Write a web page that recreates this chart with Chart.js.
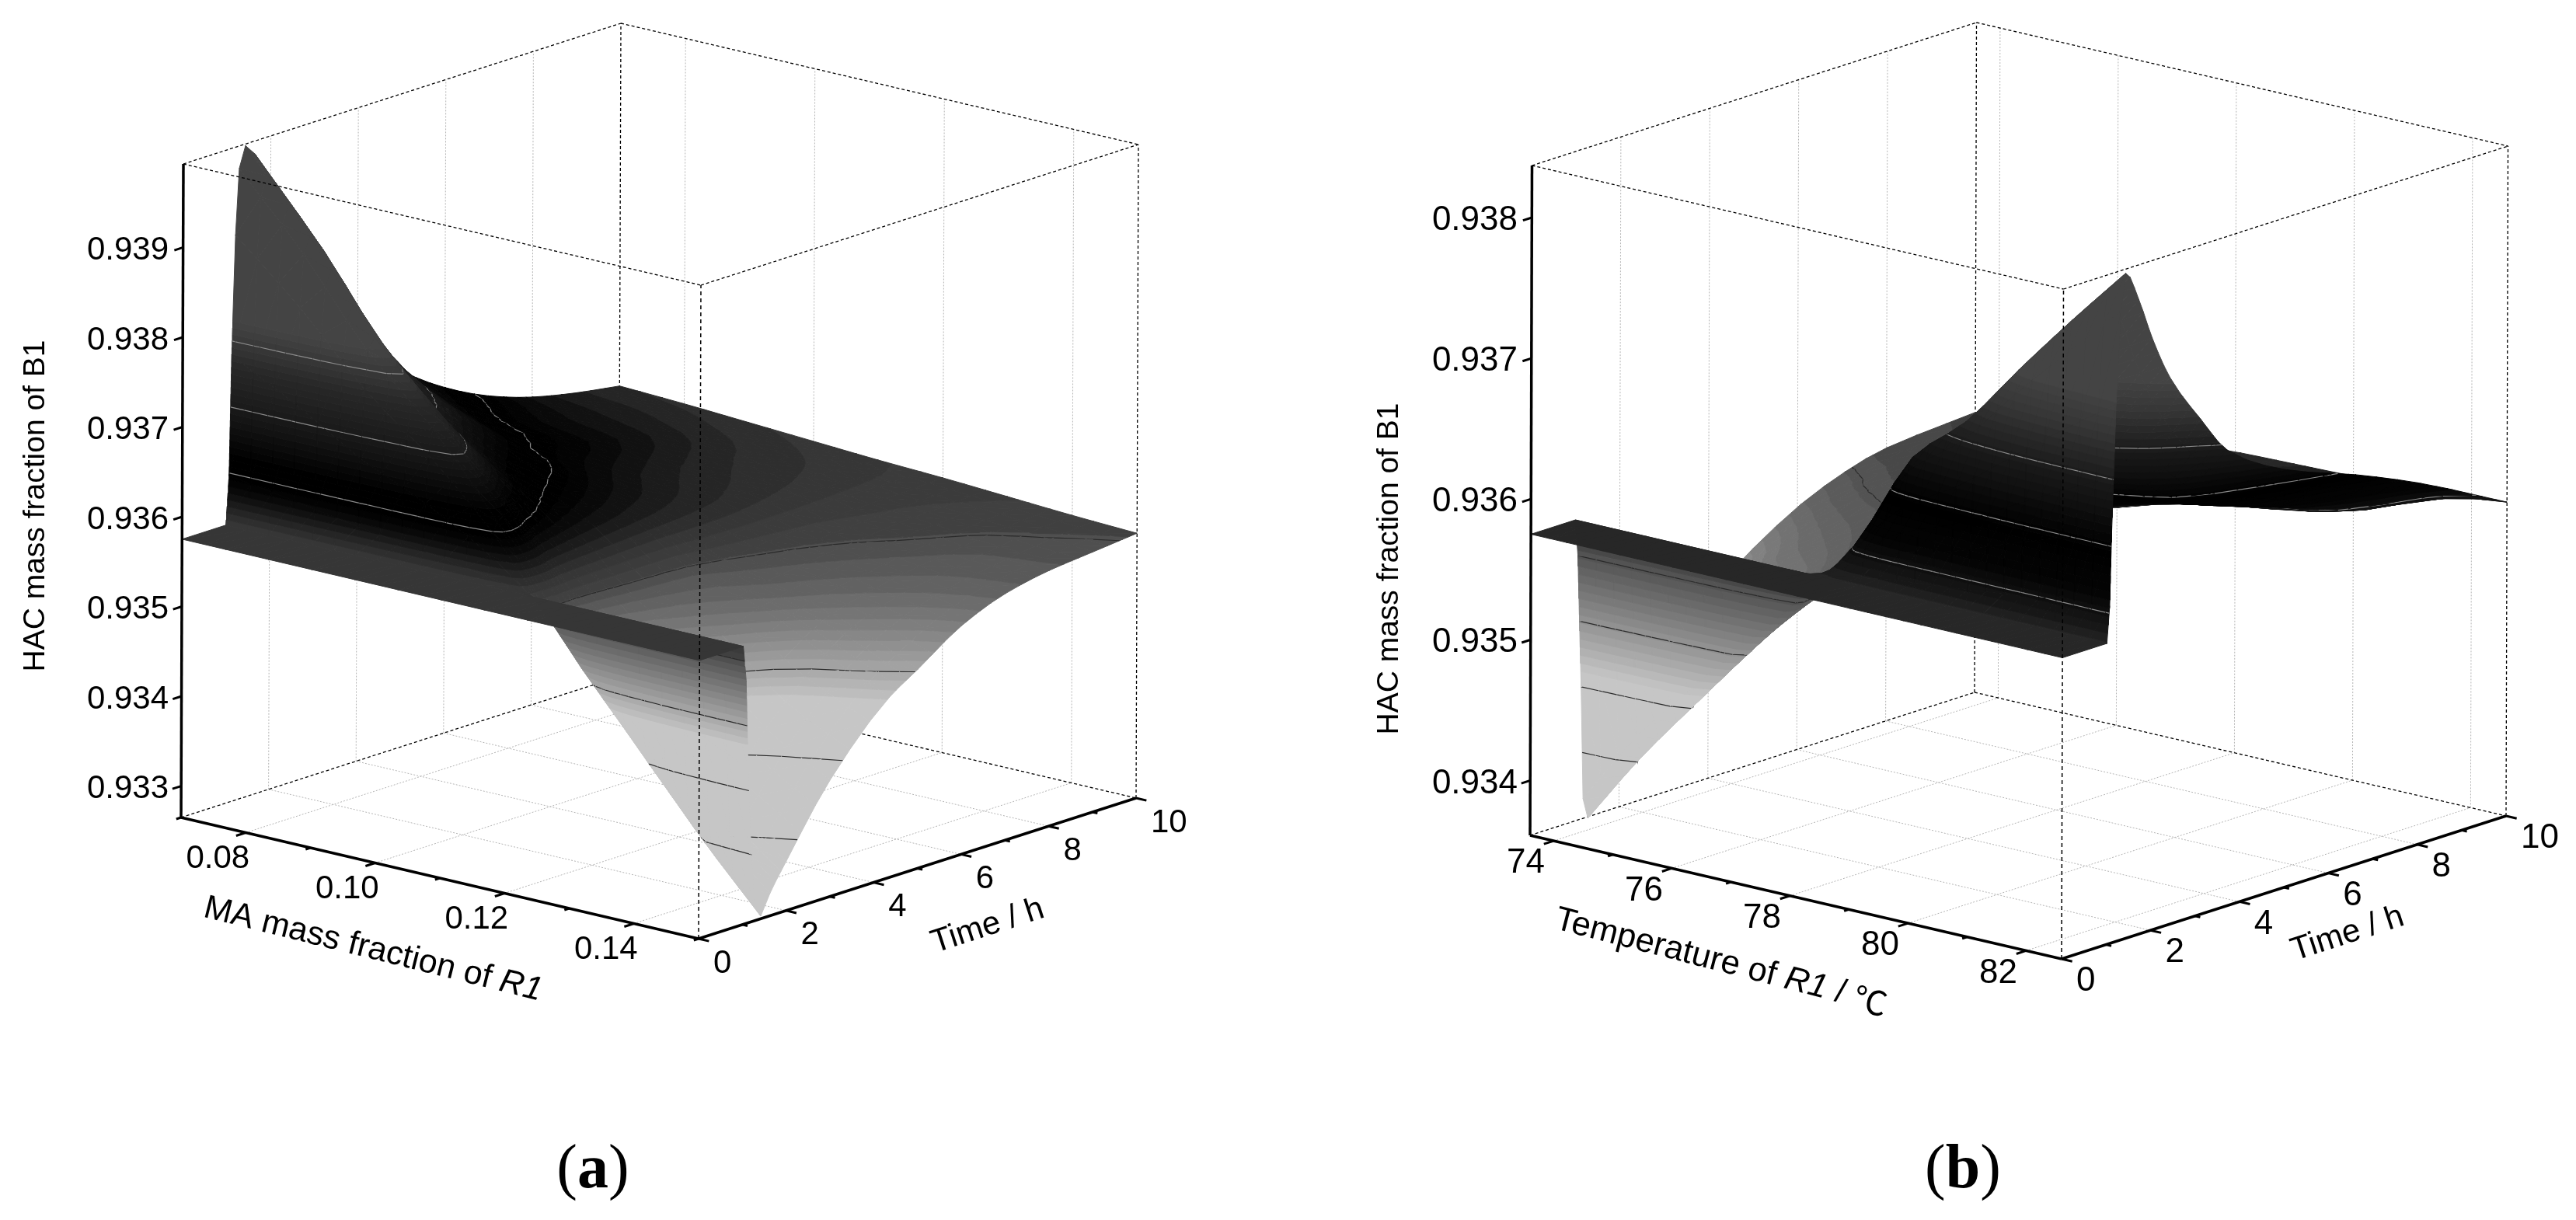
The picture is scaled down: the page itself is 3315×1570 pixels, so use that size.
<!DOCTYPE html>
<html>
<head>
<meta charset="utf-8">
<title>HAC mass fraction of B1</title>
<script src="https://cdn.jsdelivr.net/npm/chart.js@4"></script>
<style>
    html, body { margin: 0; padding: 0; background: #fff; }
    canvas { position: absolute; top: 0; }
</style>
</head>
<body>
<canvas id="chart-a" width="1658" height="1570" style="left:0"></canvas>
<canvas id="chart-b" width="1657" height="1570" style="left:1658px"></canvas>
<script>
// Panel (a) values
const maFractions = [0.07, 0.08, 0.09, 0.10, 0.11, 0.12, 0.13, 0.14, 0.15];
const maTimes = [0, 1, 1.07, 1.12, 1.2, 1.28, 1.42, 1.63, 2, 3, 4.35, 5, 6, 7, 8, 9, 10];
const maSurface = [
    [.93575, .93575, .93629, .93762, .93895, .93968, .93991, .93979, .9394, .9383, .9372, .93685, .9365, .93625, .93608, .93597, .93589],
    [.93575, .93575, .93618, .93724, .93831, .93889, .93907, .93895, .9386, .93765, .93682, .93655, .93628, .93614, .93604, .93595, .93586],
    [.93575, .93575, .93606, .93681, .93757, .93798, .93811, .938, .9376, .93698, .93655, .93632, .93621, .9361, .936, .9359, .93582],
    [.93575, .93575, .93596, .93648, .937, .93729, .93738, .93728, .93705, .93652, .93625, .93615, .93603, .93595, .93589, .93584, .93578],
    [.93575, .93575, .93584, .93607, .9363, .93642, .93646, .93642, .93628, .9361, .93599, .93595, .9359, .93585, .93581, .93578, .93574],
    [.93575, .93575, .93569, .93553, .93538, .9353, .93527, .9353, .93534, .93545, .93552, .93558, .93563, .93566, .93568, .93569, .93571],
    [.93575, .93575, .93557, .93512, .93467, .93443, .93435, .9344, .9346, .93505, .93532, .9354, .93548, .93555, .93561, .93564, .93567],
    [.93575, .93575, .93545, .93472, .93399, .93359, .93346, .93355, .93375, .93435, .93497, .93518, .93535, .93545, .93552, .93559, .93563],
    [.93575, .93575, .93535, .93437, .93339, .93285, .93268, .9329, .9332, .93395, .93466, .93487, .9352, .9354, .9355, .93555, .9356]
];
const maMajorTicks = [0.08, 0.10, 0.12, 0.14];
const maMinorTicks = [0.07, 0.09, 0.11, 0.13, 0.15];
const maZTicks = [0.933, 0.934, 0.935, 0.936, 0.937, 0.938, 0.939];
const maContours = [.9334, .93412, .93485, .93558, .93632, .93705, .93778];
const maColorZ = [.9346, .9352, .93555, .9356, .93575, .9359, .9361, .93625, .9365, .937, .9375, .938];
const maColorGray = [198, 125, 80, 66, 56, 40, 12, 0, 0, 24, 40, 68];

// Panel (b) values
const temperatures = [73.6, 74.5, 75.4, 76.3, 77.2, 78.1, 79, 79.9, 80.8, 81.7, 82.6];
const tempTimes = [0, 1, 1.06, 1.1, 1.14, 1.19, 1.3, 1.4, 1.7, 2, 2.4, 3.1, 3.7, 5, 6.6, 8, 10];
const tempSurface = [
    [.93575, .93575, .93549, .93502, .93455, .93375, .9336, .93365, .93378, .934, .9343, .9346, .9348, .93514, .93542, .93555, .9356],
    [.93575, .93575, .93555, .9352, .93484, .93428, .93412, .93415, .93428, .93445, .9347, .935, .93515, .93532, .93551, .93558, .93562],
    [.93575, .93575, .93561, .93535, .93509, .9347, .93458, .9346, .9347, .93485, .93497, .93518, .93528, .93543, .93555, .93561, .93565],
    [.93575, .93575, .93566, .93551, .93535, .9351, .93503, .93505, .93512, .93522, .9353, .9354, .93547, .93555, .93561, .93566, .93569],
    [.93575, .93575, .93572, .93565, .93559, .9355, .93547, .93548, .9355, .93552, .93555, .93558, .93561, .93565, .93568, .9357, .93572],
    [.93575, .93575, .93578, .93584, .93589, .93593, .93598, .93598, .93598, .93596, .93594, .93591, .93587, .93582, .93578, .93576, .93575],
    [.93575, .93575, .93584, .93603, .93617, .93635, .93659, .93668, .93652, .93635, .93618, .93605, .93601, .93592, .93584, .93578, .93576],
    [.93575, .93575, .93588, .93613, .93632, .93658, .93689, .93702, .9368, .93655, .93638, .93626, .93618, .93607, .93591, .93578, .93577],
    [.93575, .93575, .93592, .93627, .93653, .93687, .93731, .93748, .93715, .93686, .93658, .93642, .93632, .93616, .93599, .93582, .93579],
    [.93575, .93575, .93597, .9364, .93673, .93716, .9377, .93792, .9376, .9373, .93695, .93658, .93642, .93624, .93606, .9359, .93582],
    [.93575, .93575, .93601, .93653, .93692, .93743, .93808, .93834, .93812, .93782, .9375, .93713, .93685, .93658, .93638, .93618, .93584]
];
const tempMajorTicks = [74, 76, 78, 80, 82];
const tempMinorTicks = [75, 77, 79, 81];
const tempZTicks = [0.934, 0.935, 0.936, 0.937, 0.938];
const tempContours = [.93408, .93455, .93502, .93549, .93596, .93643, .9369];
const tempColorZ = [.93465, .9351, .93549, .93575, .93584, .9361, .9364, .9369, .93725, .9375];
const tempColorGray = [198, 136, 85, 36, 24, 4, 0, 28, 56, 68];

// Shared time axis
const timeMajorTicks = [0, 2, 4, 6, 8, 10];
const timeMinorTicks = [1, 3, 5, 7, 9];

const SANS = '"Liberation Sans", Arial, sans-serif';

const panels = [
    {
        canvas: 'chart-a', scaleMin: 0, scaleMax: 1658,
        xValues: maFractions, times: maTimes, surface: maSurface,
        xMajor: maMajorTicks, xMinor: maMinorTicks, zTicks: maZTicks,
        xDigits: 2, contours: maContours, colorZ: maColorZ, colorGray: maColorGray, bandStep: 0.000073,
        xRange: [0.07, 0.15], zRange: [0.93265, 0.93993],
        origin: [233, 1052], ex: [666, 156], et: [563, -181], ez: [3, -841],
        tickFont: 42, xTickOffset: [-36, 34], tTickOffset: [19, 32], zLabelX: 217,
        zTitle: { x: 46, y: 651, size: 39 },
        xTitle: { x: 480, y: 1222, size: 43, angle: 14, runs: [['MA mass fraction of ', ''], ['R1', 'italic']] },
        tTitle: { x: 1271, y: 1192, size: 42, angle: -18 },
        caption: { x: 763, y: 1528, letter: 'a' }
    },
    {
        canvas: 'chart-b', scaleMin: 1658, scaleMax: 3315,
        xValues: temperatures, times: tempTimes, surface: tempSurface,
        xMajor: tempMajorTicks, xMinor: tempMinorTicks, zTicks: tempZTicks,
        xDigits: 0, contours: tempContours, colorZ: tempColorZ, colorGray: tempColorGray, bandStep: 0.000058,
        xRange: [73.6, 82.6], zRange: [0.93361, 0.93837],
        origin: [1969, 1075], ex: [684, 159], et: [572, -184], ez: [2.5, -862],
        tickFont: 44, xTickOffset: [-36, 29], tTickOffset: [19, 29], zLabelX: 1953,
        zTitle: { x: 1788, y: 732, size: 39 },
        xTitle: { x: 2215, y: 1238, size: 43.5, angle: 14.5, runs: [['Temperature of ', ''], ['R1', 'italic'], [' / ', ''], ['℃', 'cjk']] },
        tTitle: { x: 3021, y: 1202, size: 42, angle: -18 },
        caption: { x: 2526, y: 1528, letter: 'b' }
    }
];

// Orthographic projection of (x, time, z) onto the chart's pixel-sized scales
function makeProjection(p) {
    return (x, t, z) => {
        const u = (x - p.xRange[0]) / (p.xRange[1] - p.xRange[0]);
        const v = t / 10;
        const w = (z - p.zRange[0]) / (p.zRange[1] - p.zRange[0]);
        return {
            x: p.origin[0] + u * p.ex[0] + v * p.et[0] + w * p.ez[0],
            y: p.origin[1] + u * p.ex[1] + v * p.et[1] + w * p.ez[1]
        };
    };
}

// Monotone cubic through a column of the table, same idea as a line's tension
function monotoneSlopes(xs, ys) {
    const n = xs.length;
    const d = [];
    for (let i = 0; i < n - 1; i++) d.push((ys[i + 1] - ys[i]) / (xs[i + 1] - xs[i]));
    const m = [d[0]];
    for (let i = 1; i < n - 1; i++) {
        if (d[i - 1] * d[i] <= 0) {
            m.push(0);
        } else {
            const h0 = xs[i] - xs[i - 1], h1 = xs[i + 1] - xs[i];
            m.push(3 * (h0 + h1) / ((2 * h1 + h0) / d[i - 1] + (h1 + 2 * h0) / d[i]));
        }
    }
    m.push(d[n - 2]);
    return m;
}

function evalMonotone(xs, ys, m, i, s) {
    const h = xs[i + 1] - xs[i];
    const s2 = s * s, s3 = s2 * s;
    return (2 * s3 - 3 * s2 + 1) * ys[i] + (s3 - 2 * s2 + s) * h * m[i]
        + (-2 * s3 + 3 * s2) * ys[i + 1] + (s3 - s2) * h * m[i + 1];
}

// Tessellate the table for drawing: long time steps and all x steps get 3 sub-cells
function refineSurface(p) {
    const steps = [];
    p.times.forEach((t, j) => {
        if (j === p.times.length - 1) return;
        const dt = p.times[j + 1] - t;
        const parts = (j > 0 && dt >= 0.3) ? 3 : 1;
        for (let k = 0; k < parts; k++) steps.push({ j, s: k / parts, t: t + dt * k / parts });
    });
    steps.push({ j: p.times.length - 2, s: 1, t: p.times[p.times.length - 1] });

    const rowSlopes = p.surface.map(row => monotoneSlopes(p.times, row));
    const columns = steps.map(st => p.surface.map((row, i) => evalMonotone(p.times, row, rowSlopes[i], st.j, st.s)));

    const fineX = [];
    p.xValues.forEach((x, i) => {
        if (i === p.xValues.length - 1) { fineX.push({ i: i - 1, s: 1, x }); return; }
        for (let k = 0; k < 3; k++) fineX.push({ i, s: k / 3, x: x + (p.xValues[i + 1] - x) * k / 3 });
    });
    const zs = fineX.map(() => []);
    columns.forEach(col => {
        const slopes = monotoneSlopes(p.xValues, col);
        fineX.forEach((fx, a) => zs[a].push(evalMonotone(p.xValues, col, slopes, fx.i, fx.s)));
    });
    return { xs: fineX.map(f => f.x), ts: steps.map(s => s.t), zs };
}

function grayAt(p, z) {
    const zs = p.colorZ, gs = p.colorGray;
    if (z <= zs[0]) return gs[0];
    for (let i = 1; i < zs.length; i++) {
        if (z <= zs[i]) return gs[i - 1] + (gs[i] - gs[i - 1]) * (z - zs[i - 1]) / (zs[i] - zs[i - 1]);
    }
    return gs[gs.length - 1];
}

// Colour bands of the filled surface, flat outside the colour stops
function makeBands(p) {
    const first = p.colorZ[0], last = p.colorZ[p.colorZ.length - 1];
    const anchor = p.contours[0];
    const bands = [];
    let lo = -Infinity;
    let edge = anchor + Math.ceil((first - anchor) / p.bandStep) * p.bandStep;
    while (edge < last) {
        const mid = lo === -Infinity ? first : (lo + edge) / 2;
        bands.push({ lo, hi: edge, gray: Math.round(grayAt(p, mid)) });
        lo = edge;
        edge += p.bandStep;
    }
    bands.push({ lo, hi: Infinity, gray: p.colorGray[p.colorGray.length - 1] });
    return bands;
}

function clipBelow(poly, level, keepAbove) {
    const out = [];
    for (let i = 0; i < poly.length; i++) {
        const a = poly[i], b = poly[(i + 1) % poly.length];
        const aIn = keepAbove ? a.z >= level : a.z <= level;
        const bIn = keepAbove ? b.z >= level : b.z <= level;
        if (aIn) out.push(a);
        if (aIn !== bIn) {
            const s = (level - a.z) / (b.z - a.z);
            out.push({ x: a.x + (b.x - a.x) * s, t: a.t + (b.t - a.t) * s, z: level });
        }
    }
    return out;
}

function lineSet(points, color, width, dash) {
    return {
        data: points, showLine: true, fill: false, tension: 0, clip: false,
        borderColor: color, borderWidth: width, borderDash: dash || [], pointRadius: 0
    };
}

function triangleSets(p, tri, bands, project, out) {
    const zs = tri.map(c => c.z);
    const zMin = Math.min(...zs), zMax = Math.max(...zs);
    bands.forEach(b => {
        if (b.hi <= zMin || b.lo > zMax) return;
        let poly = tri;
        if (b.lo !== -Infinity) poly = clipBelow(poly, b.lo, true);
        if (b.hi !== Infinity && poly.length) poly = clipBelow(poly, b.hi, false);
        if (poly.length < 3) return;
        const color = `rgb(${b.gray},${b.gray},${b.gray})`;
        const pts = poly.map(c => project(c.x, c.t, c.z));
        pts.push(pts[0]);
        out.push({
            data: pts, showLine: true, fill: 'shape', tension: 0, clip: false,
            borderColor: color, backgroundColor: color, borderWidth: 1, pointRadius: 0
        });
    });
    // contour lines
    p.contours.forEach(level => {
        if (level < zMin || level >= zMax) return;
        const cross = [];
        for (let i = 0; i < 3; i++) {
            const a = tri[i], b = tri[(i + 1) % 3];
            if ((a.z < level) !== (b.z < level)) {
                const s = (level - a.z) / (b.z - a.z);
                cross.push(project(a.x + (b.x - a.x) * s, a.t + (b.t - a.t) * s, level));
            }
        }
        if (cross.length === 2) {
            out.push(lineSet(cross, level < 0.9358 ? '#2a2a2a' : '#8a8a8a', 1.2));
        }
    });
}

function buildDatasets(p) {
    const project = makeProjection(p);
    const [x0, x1] = p.xRange;
    const [z0, z1] = p.zRange;
    const sets = [];
    const segment = (a, b, color, width, dash) => sets.push(lineSet([project(...a), project(...b)], color, width, dash));

    // wall and floor grid behind the surface
    const gridColor = '#b4b4b4', gridDash = [2, 2];
    timeMajorTicks.slice(1, -1).forEach(t => {
        segment([x0, t, z0], [x0, t, z1], gridColor, 1, gridDash);
        segment([x0, t, z0], [x1, t, z0], gridColor, 1, gridDash);
    });
    p.xMajor.forEach(x => {
        segment([x, 10, z0], [x, 10, z1], gridColor, 1, gridDash);
        segment([x, 0, z0], [x, 10, z0], gridColor, 1, gridDash);
    });

    // back edges of the box
    const boxDash = [4, 3];
    segment([x0, 0, z0], [x0, 10, z0], '#000', 1.3, boxDash);
    segment([x0, 10, z0], [x1, 10, z0], '#000', 1.3, boxDash);
    segment([x0, 10, z0], [x0, 10, z1], '#000', 1.3, boxDash);
    segment([x1, 10, z0], [x1, 10, z1], '#000', 1.3, boxDash);
    segment([x0, 0, z1], [x0, 10, z1], '#000', 1.3, boxDash);
    segment([x0, 10, z1], [x1, 10, z1], '#000', 1.3, boxDash);

    // surface, far cells first so nearer cells paint over them
    const bands = makeBands(p);
    const { xs, ts, zs } = refineSurface(p);
    for (let j = ts.length - 2; j >= 0; j--) {
        for (let i = 0; i < xs.length - 1; i++) {
            const corner = (a, b) => ({ x: xs[a], t: ts[b], z: zs[a][b] });
            const farTri = [corner(i, j), corner(i, j + 1), corner(i + 1, j + 1)];
            const nearTri = [corner(i, j), corner(i + 1, j + 1), corner(i + 1, j)];
            triangleSets(p, farTri, bands, project, sets);
            triangleSets(p, nearTri, bands, project, sets);
        }
    }

    // front edges of the box sit over the surface
    segment([x1, 0, z0], [x1, 0, z1], '#000', 1.5, [5, 4]);
    segment([x0, 0, z1], [x1, 0, z1], '#000', 1.3, boxDash);
    segment([x1, 0, z1], [x1, 10, z1], '#000', 1.3, boxDash);

    // axes and ticks
    segment([x0, 0, z0], [x0, 0, z1], '#000', 3.5);
    segment([x0, 0, z0], [x1, 0, z0], '#000', 3.5);
    segment([x1, 0, z0], [x1, 10, z0], '#000', 3.5);
    p.zTicks.forEach(z => segment([x0, 0, z], [x0, -0.2, z], '#000', 3));
    p.xMajor.forEach(x => segment([x, 0, z0], [x, -0.22, z0], '#000', 3));
    p.xMinor.forEach(x => segment([x, 0, z0], [x, -0.11, z0], '#000', 3));
    const xSpan = x1 - x0;
    timeMajorTicks.forEach(t => segment([x1, t, z0], [x1 + xSpan * 0.02, t, z0], '#000', 3));
    timeMinorTicks.forEach(t => segment([x1, t, z0], [x1 + xSpan * 0.01, t, z0], '#000', 3));

    // first dataset is painted last by Chart.js
    return sets.reverse();
}

// Tick labels, axis titles and the panel caption
function textPlugin(p) {
    const project = makeProjection(p);
    return {
        id: 'panelText',
        afterDraw(chart) {
            const { ctx, scales } = chart;
            const px = v => scales.x.getPixelForValue(v);
            const py = v => scales.y.getPixelForValue(v);
            const [x0] = p.xRange;
            const z0 = p.zRange[0];
            ctx.save();
            ctx.fillStyle = '#000';
            ctx.font = `${p.tickFont}px ${SANS}`;
            ctx.textBaseline = 'middle';

            ctx.textAlign = 'right';
            p.zTicks.forEach(z => {
                const at = project(x0, 0, z);
                ctx.fillText(z.toFixed(3), px(p.zLabelX), py(at.y + 4));
            });

            ctx.textAlign = 'center';
            p.xMajor.forEach(x => {
                const at = project(x, 0, z0);
                ctx.fillText(x.toFixed(p.xDigits), px(at.x + p.xTickOffset[0]), py(at.y + p.xTickOffset[1]));
            });

            ctx.textAlign = 'left';
            timeMajorTicks.forEach(t => {
                const at = project(p.xRange[1], t, z0);
                ctx.fillText(String(t), px(at.x + p.tTickOffset[0]), py(at.y + p.tTickOffset[1]));
            });

            drawRuns(ctx, [['HAC mass fraction of B1', '']], px(p.zTitle.x), py(p.zTitle.y), p.zTitle.size, -90);
            drawRuns(ctx, p.xTitle.runs, px(p.xTitle.x), py(p.xTitle.y), p.xTitle.size, p.xTitle.angle);
            drawRuns(ctx, [['Time / h', '']], px(p.tTitle.x), py(p.tTitle.y), p.tTitle.size, p.tTitle.angle);

            // caption: serif with a bold letter
            const parts = [['(', 'normal'], [p.caption.letter, 'bold'], [')', 'normal']];
            const fontOf = w => `${w} 80px "Liberation Serif", serif`;
            let total = 0;
            parts.forEach(([s, w]) => { ctx.font = fontOf(w); total += ctx.measureText(s).width; });
            let cx = px(p.caption.x) - total / 2;
            ctx.textAlign = 'left';
            ctx.textBaseline = 'alphabetic';
            parts.forEach(([s, w]) => {
                ctx.font = fontOf(w);
                ctx.fillText(s, cx, py(p.caption.y));
                cx += ctx.measureText(s).width;
            });
            ctx.restore();
        }
    };
}

function drawRuns(ctx, runs, cx, cy, size, angle) {
    const fontOf = style => {
        if (style === 'italic') return `italic ${size}px ${SANS}`;
        if (style === 'cjk') return `${size}px "Noto Sans CJK SC"`;
        return `${size}px ${SANS}`;
    };
    let total = 0;
    runs.forEach(([s, style]) => { ctx.font = fontOf(style); total += ctx.measureText(s).width; });
    ctx.save();
    ctx.translate(cx, cy);
    ctx.rotate(angle * Math.PI / 180);
    ctx.textAlign = 'left';
    ctx.textBaseline = 'middle';
    let at = -total / 2;
    runs.forEach(([s, style]) => {
        ctx.font = fontOf(style);
        ctx.fillText(s, at, 0);
        at += ctx.measureText(s).width;
    });
    ctx.restore();
}

panels.forEach(p => {
    new Chart(document.getElementById(p.canvas), {
        type: 'scatter',
        data: { datasets: buildDatasets(p) },
        options: {
            responsive: false,
            animation: false,
            events: [],
            layout: { padding: 0 },
            scales: {
                x: { type: 'linear', min: p.scaleMin, max: p.scaleMax, display: false },
                y: { type: 'linear', min: 0, max: 1570, reverse: true, display: false }
            },
            plugins: { legend: { display: false }, tooltip: { enabled: false } }
        },
        plugins: [textPlugin(p)]
    });
});
</script>
</body>
</html>
